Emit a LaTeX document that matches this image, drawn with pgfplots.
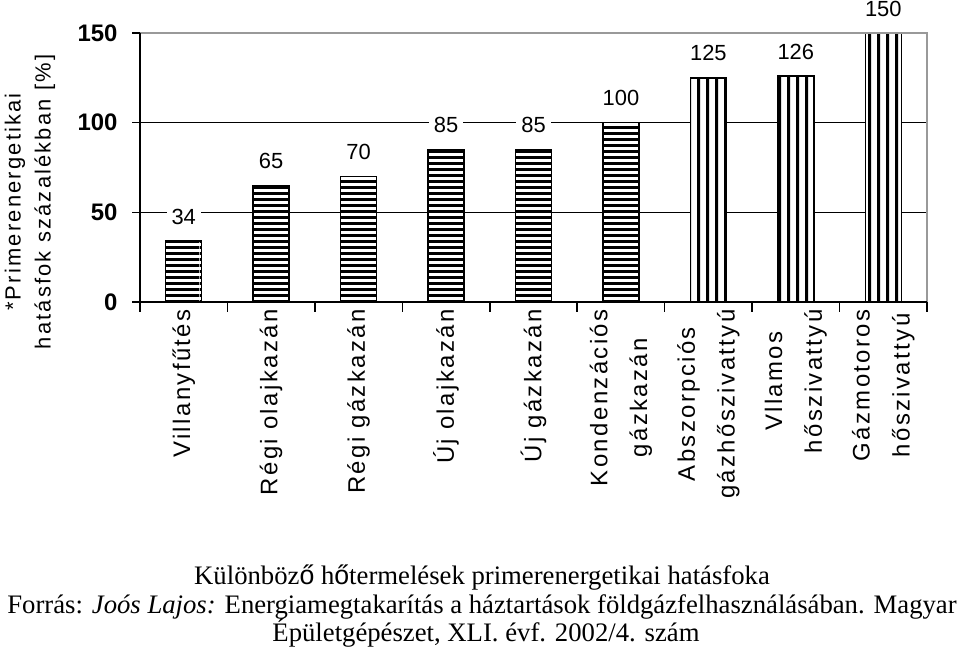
\documentclass[border=0pt]{standalone}
\usepackage{fontspec}
\setmainfont{Liberation Sans}
\newfontfamily\capfont{Liberation Serif}
\newfontfamily\sansf{Liberation Sans}
\newfontfamily\lsfont[LetterSpace=10]{Liberation Sans}
\usepackage{pgfplots}
\pgfplotsset{compat=1.18}
\usetikzlibrary{patterns}

\pgfdeclarepatternformonly{hstripes}{\pgfpointorigin}{\pgfpoint{200bp}{6bp}}{\pgfpoint{200bp}{6bp}}{%
  \pgfpathrectangle{\pgfpoint{0bp}{0bp}}{\pgfpoint{200bp}{3.2bp}}\pgfusepath{fill}}
\pgfdeclarepatternformonly{vstripes}{\pgfpointorigin}{\pgfpoint{8.5bp}{400bp}}{\pgfpoint{8.5bp}{400bp}}{%
  \pgfpathrectangle{\pgfpoint{0bp}{0bp}}{\pgfpoint{3.2bp}{400bp}}\pgfusepath{fill}}

\pgfplotstableread{
x y
0.5 34
1.5 65
2.5 70
3.5 85
4.5 85
5.5 100
}\horiz
\pgfplotstableread{
x y
6.5 125
7.5 126
8.5 150
}\vertb

\begin{document}
\begin{tikzpicture}[x=1bp,y=1bp]
\useasboundingbox (0,0) rectangle (960,651);
\begin{axis}[
  at={(140bp,349bp)}, anchor=south west, scale only axis,
  width=787bp, height=269bp,
  xmin=0, xmax=9, ymin=0, ymax=150,
  clip=false,
  axis line style={draw=none},
  tick pos=left, tick align=outside,
  ytick={0,50,100,150},
  xtick={0.5,1.5,...,8.5},
  minor xtick={0,1,...,9},
  major x tick style={draw=none},
  major tick length=8bp, minor tick length=10bp,
  tick style={black, line width=1.5bp},
  ymajorgrids, grid style={black, line width=1.5bp},
  /pgf/number format/assume math mode=true,
  yticklabel style={font=\fontsize{24}{24}\selectfont\bfseries, xshift=-11bp},
  xticklabel style={rotate=90, anchor=east, align=center, font=\lsfont\fontsize{24}{40}\selectfont, xshift=4bp},
  xticklabels={Villanyfűtés, Régi olajkazán, Régi gázkazán, Új olajkazán, Új gázkazán, {Kondenzációs\\gázkazán}, {Abszorpciós\\gázhőszivattyú}, {Vllamos\\hőszivattyú}, {Gázmotoros\\hőszivattyú}},
  ybar, bar width=36bp, bar shift=0pt,
  nodes near coords,
  every node near coord/.append style={font=\fontsize{22}{22}\selectfont, fill=white, inner xsep=5bp, inner ysep=2bp, yshift=14bp, text=black},
]
\addplot[draw=black, line width=1.5bp, fill=white, postaction={pattern=hstripes, pattern color=black}] table[x=x,y=y]{\horiz};
\addplot[draw=black, line width=1.5bp, fill=white, postaction={pattern=vstripes, pattern color=black}] table[x=x,y=y]{\vertb};
\draw[gray!80, line width=1.5bp] (rel axis cs:0,1) -- (rel axis cs:1,1) -- (rel axis cs:1,0);
\draw[black, line width=1.5bp] (rel axis cs:0,1) -- (rel axis cs:0,0) -- (rel axis cs:1,0);
\end{axis}
\node[rotate=90, align=center, font=\lsfont\fontsize{22}{30}\selectfont] at (30,449) {*Primerenergetikai\\hatásfok százalékban [\%]};
\node[anchor=base, font=\capfont\fontsize{26.8}{26.8}\selectfont] at (482,66) {Különböz{\sansf ő} h{\sansf ő}termelések primerenergetikai hatásfoka};
\node[anchor=base, font=\capfont\fontsize{26.8}{26.8}\selectfont] at (482,37) {Forrás: \textit{Joós Lajos:} Energiamegtakarítás a háztartások földgázfelhasználásában. Magyar};
\node[anchor=base, font=\capfont\fontsize{26.8}{26.8}\selectfont] at (486,9) {Épületgépészet, XLI. évf. 2002/4. szám};
\end{tikzpicture}
\end{document}
